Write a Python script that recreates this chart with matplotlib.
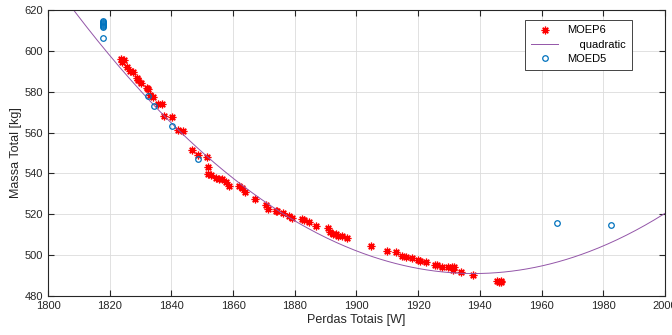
import numpy as np
import matplotlib.pyplot as plt

plt.rcParams['font.family'] = ['Liberation Sans', 'DejaVu Sans']

# MOEP6 points (Perdas Totais [W], Massa Total [kg])
moep6_x = [1823.6, 1824.5, 1824.0, 1825.5, 1826.6, 1827.7, 1828.8, 1829.3, 1830.1,
           1832.0, 1832.5, 1833.1, 1834.1, 1835.8, 1836.9, 1837.7, 1840.1, 1842.0,
           1843.9, 1846.6, 1848.5, 1851.6, 1852.0, 1852.0, 1852.8, 1854.4, 1855.4,
           1856.5, 1857.6, 1858.7, 1862.0, 1862.8, 1863.9, 1867.1, 1870.6, 1871.4,
           1873.8, 1874.3, 1876.3, 1878.2, 1879.0, 1882.2, 1883.0, 1884.6, 1886.8,
           1890.9, 1891.4, 1892.3, 1893.3, 1894.1, 1895.2, 1896.8, 1904.7, 1909.8,
           1912.7, 1914.9, 1915.9, 1917.9, 1919.8, 1920.6, 1922.5, 1925.4, 1926.2,
           1927.6, 1929.6, 1931.1, 1931.4, 1931.7, 1933.9, 1937.7, 1945.6, 1946.3,
           1946.7, 1947.0]
moep6_y = [596.0, 595.5, 594.8, 592.3, 590.2, 589.9, 586.7, 585.9, 584.5,
           581.8, 581.5, 578.5, 577.2, 574.0, 574.0, 568.3, 567.5, 561.5,
           561.0, 551.7, 548.8, 548.1, 543.1, 539.9, 539.0, 537.9, 537.4,
           537.4, 535.8, 534.1, 534.1, 532.7, 530.9, 527.3, 524.4, 522.8,
           521.6, 521.6, 520.5, 519.2, 518.0, 517.6, 517.2, 516.4, 514.3,
           513.2, 511.1, 510.2, 510.2, 509.4, 509.4, 508.3, 504.5, 502.1,
           501.7, 499.7, 499.3, 498.5, 497.6, 497.2, 496.7, 495.3, 495.1,
           494.3, 494.0, 494.0, 492.7, 494.0, 491.9, 490.4, 487.5, 487.0,
           487.5, 487.0]

# MOED5 points
moed5_x = [1817.7, 1817.7, 1817.7, 1817.7, 1817.7, 1817.7, 1817.7, 1817.7,
           1832.5, 1834.5, 1840.3, 1848.6, 1964.9, 1982.5]
moed5_y = [614.8, 614.3, 613.8, 613.3, 612.8, 612.3, 611.7, 606.2,
           577.7, 572.8, 563.3, 547.0, 515.5, 514.6]

# quadratic fit: vertex form (min ~ (1938, 491))
quad_a = 0.00767
quad_vx = 1938.0
quad_vy = 491.0
quad_coef = [quad_a, -2 * quad_a * quad_vx, quad_a * quad_vx ** 2 + quad_vy]

fig = plt.figure(figsize=(6.72, 3.35), dpi=100)
ax = fig.add_axes([0.0714, 0.1164, 0.9182, 0.8536])

xs = np.linspace(1800, 2000, 400)
ax.plot(moep6_x, moep6_y, linestyle='none', marker=(8, 2, 0), color='#ff0000',
        markersize=5.5, markeredgewidth=0.9, label='MOEP6')
ax.plot(xs, np.polyval(quad_coef, xs), color='#9355a8', linewidth=0.7,
        label='    quadratic')
ax.plot(moed5_x, moed5_y, linestyle='none', marker='o', markersize=4,
        markerfacecolor='none', markeredgecolor='#0072BD', markeredgewidth=0.9,
        label='MOED5')

ax.set_xlim(1800, 2000)
ax.set_ylim(480, 620)
ax.set_xticks(np.arange(1800, 2001, 20))
ax.set_yticks(np.arange(480, 621, 20))
ax.grid(True, color='#dcdcdc', linewidth=0.6)
ax.set_axisbelow(True)
ax.tick_params(direction='in', top=True, right=True, labelsize=8, length=4,
               width=0.8, colors='#262626')
for s in ax.spines.values():
    s.set_color('#262626')
    s.set_linewidth(0.8)

ax.set_xlabel('Perdas Totais [W]', fontsize=9, color='#262626', labelpad=2)
ax.set_ylabel('Massa Total [kg]', fontsize=9, color='#262626', labelpad=2)

leg = ax.legend(loc='upper right', bbox_to_anchor=(0.955, 0.985), fontsize=8,
                fancybox=False, edgecolor='#262626', framealpha=1,
                handlelength=2.5, borderpad=0.5, labelspacing=0.4)
leg.get_frame().set_linewidth(0.6)

fig.savefig('out.png', dpi=100)
